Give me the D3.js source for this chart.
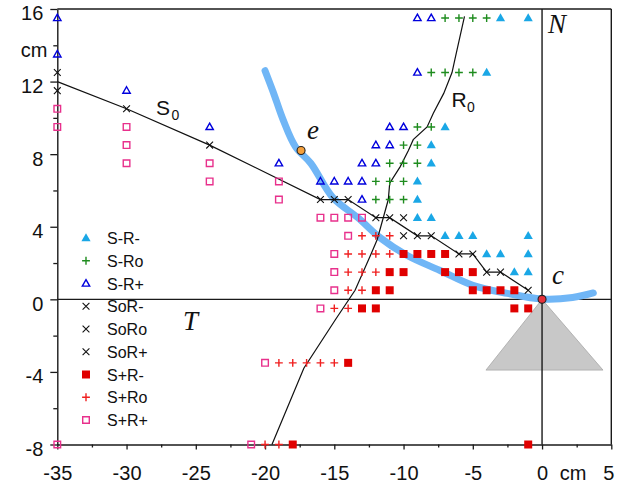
<!DOCTYPE html>
<html>
<head>
<meta charset="utf-8">
<script src="https://cdn.jsdelivr.net/npm/d3@7"></script>
<style>
  body { margin: 0; background: #fff; }
  svg { display: block; }
  text { font-family: "Liberation Sans", Arial, sans-serif; fill: #111; }
  .it { font-family: "Liberation Serif", "Times New Roman", serif; font-style: italic; }
</style>
</head>
<body>
<svg id="chart" width="619" height="484"></svg>
<script>
// tick values (cm)
const xMajorTicks = [-35, -30, -25, -20, -15, -10, -5, 0, 5]
const xMinorTicks = [-32.5, -27.5, -22.5, -17.5, -12.5, -7.5, -2.5, 2.5]
const yMajorTicks = [-8, -4, 0, 4, 8, 12, 16]
const yMinorTicks = [-6, -2, 2, 6, 10, 14]
const unitLabel = 'cm'
const xUnitAt = 2.5
const yUnitAt = 14

// measured cells, [x, y] in cm
const sRminus = [[-3, 15.5], [-1, 15.5], [-4, 12.5], [-7, 9.5], [-8, 8.5], [-8, 7.5], [-9, 6.5], [-9, 5.5],
  [-9, 4.5], [-8, 4.5], [-7, 3.5], [-6, 3.5], [-5, 3.5], [-1, 3.5], [-4, 2.5], [-3, 2.5], [-1, 2.5],
  [-2, 1.5], [-1, 1.5]]
const sRo = [[-7, 15.5], [-6, 15.5], [-5, 15.5], [-4, 15.5], [-8, 12.5], [-7, 12.5], [-6, 12.5], [-5, 12.5],
  [-9, 9.5], [-8, 9.5], [-10, 8.5], [-9, 8.5], [-11, 7.5], [-10, 7.5], [-9, 7.5], [-12, 6.5], [-11, 6.5],
  [-10, 6.5], [-12, 5.5], [-11, 5.5], [-10, 5.5]]
const sRplus = [[-35, 15.5], [-9, 15.5], [-8, 15.5], [-35, 13.5], [-9, 12.5], [-30, 11.5], [-24, 9.5],
  [-11, 9.5], [-10, 9.5], [-12, 8.5], [-11, 8.5], [-19, 7.5], [-13, 7.5], [-12, 7.5], [-16, 6.5],
  [-15, 6.5], [-14, 6.5], [-13, 6.5], [-13, 5.5]]
const soR = [[-35, 12.5], [-35, 11.5], [-30, 10.5], [-24, 8.5], [-16, 5.5], [-15, 5.5], [-14, 5.5],
  [-12, 4.5], [-11, 4.5], [-10, 4.5], [-10, 3.5], [-9, 3.5], [-8, 3.5], [-6, 2.5], [-5, 2.5],
  [-4, 1.5], [-3, 1.5], [-1, 0.5]]
const spRminus = [[-10, 2.5], [-9, 2.5], [-8, 2.5], [-7, 2.5], [-11, 1.5], [-10, 1.5], [-7, 1.5], [-6, 1.5],
  [-5, 1.5], [-12, 0.5], [-11, 0.5], [-5, 0.5], [-4, 0.5], [-3, 0.5], [-2, 0.5], [-13, -0.5], [-12, -0.5],
  [-2, -0.5], [-1, -0.5], [-14, -3.5], [-18, -8], [-1, -8]]
const spRo = [[-13, 3.5], [-12, 3.5], [-11, 3.5], [-14, 2.5], [-13, 2.5], [-12, 2.5], [-11, 2.5], [-14, 1.5],
  [-13, 1.5], [-12, 1.5], [-14, 0.5], [-13, 0.5], [-15, -0.5], [-14, -0.5], [-19, -3.5], [-18, -3.5],
  [-17, -3.5], [-16, -3.5], [-15, -3.5], [-20, -8], [-19, -8]]
const spRplus = [[-35, 10.5], [-35, 9.5], [-30, 9.5], [-30, 8.5], [-30, 7.5], [-24, 7.5], [-24, 6.5],
  [-19, 6.5], [-19, 5.5], [-16, 4.5], [-15, 4.5], [-14, 4.5], [-13, 4.5], [-14, 3.5], [-15, 2.5],
  [-15, 1.5], [-15, 0.5], [-16, -0.5], [-20, -3.5], [-35, -8], [-21, -8]]

// boundary lines and the trajectory
const s0Line = [[-35, 12], [-30, 10.5], [-24, 8.5], [-16, 5.5], [-14, 5.5], [-12, 4.5], [-11, 4.5],
  [-9, 3.5], [-8, 3.5], [-6, 2.5], [-5, 2.5], [-4, 1.5], [-3, 1.5], [-1, 0.5]]
const r0Line = [[-19.5, -8], [-17.2, -3.8], [-14.9, -1.1], [-13.5, 0.5], [-12.4, 2.4], [-11.9, 3.3],
  [-11.1, 5.5], [-11, 6.4], [-10.25, 7.3], [-9.65, 8.2], [-9.3, 8.8], [-8.3, 9.5], [-7.85, 10.25],
  [-7.1, 11.35], [-6.5, 12.5], [-6.3, 13.2], [-5.6, 15.6]]
const trajectory = [[-20, 12.6], [-19.4, 11.4], [-18.7, 9.9], [-17.8, 8.4], [-16.7, 7.5], [-15.1, 5.6],
  [-13.3, 4.5], [-11.7, 3.4], [-9.7, 2.4], [-7.4, 1.6], [-5, 0.77], [-2.5, 0.33], [0, 0.02],
  [2.2, 0.1], [3.7, 0.35]]
const pointE = [-17.4, 8.2]
const pointC = [0, 0]
const cone = [[0, 0], [-4.05, -3.9], [4.4, -3.9]]

const series = [
  { name: 'S-R-', data: sRminus, shape: 'triFill', color: '#1aa7e6' },
  { name: 'S-Ro', data: sRo, shape: 'plus', color: '#1e8c1e' },
  { name: 'S-R+', data: sRplus, shape: 'triOpen', color: '#0000dd' },
  { name: 'SoR-', data: [], shape: 'cross', color: '#111' },
  { name: 'SoRo', data: [], shape: 'cross', color: '#111' },
  { name: 'SoR+', data: soR, shape: 'cross', color: '#111' },
  { name: 'S+R-', data: spRminus, shape: 'sqFill', color: '#e00000' },
  { name: 'S+Ro', data: spRo, shape: 'plus', color: '#f02020' },
  { name: 'S+R+', data: spRplus, shape: 'sqOpen', color: '#e8308c' },
]

const shapes = {
  triFill: 'M0,-4.8L4.6,3.2L-4.6,3.2Z',
  triOpen: 'M0,-3.9L3.7,2.6L-3.7,2.6Z',
  plus: 'M-3.9,0H3.9M0,-3.9V3.9',
  cross: 'M-3.4,-3.4L3.4,3.4M-3.4,3.4L3.4,-3.4',
  sqFill: 'M-4,-4H4V4H-4Z',
  sqOpen: 'M-3.3,-3.3H3.3V3.3H-3.3Z',
}

function styleMark(sel, s) {
  const filled = s.shape === 'triFill' || s.shape === 'sqFill'
  sel.attr('d', shapes[s.shape])
    .attr('fill', filled ? s.color : 'none')
    .attr('stroke', filled ? 'none' : s.color)
    .attr('stroke-width', s.shape === 'cross' ? 1.1 : 1.4)
}

const svg = d3.select('#chart')
const x = d3.scaleLinear().domain([-35, 5]).range([57.3, 611.3])
const y = d3.scaleLinear().domain([-8, 16]).range([444.5, 9])
const line = d3.line().x(d => x(d[0])).y(d => y(d[1]))

// cone
svg.append('path')
  .attr('d', line(cone) + 'Z')
  .attr('fill', '#c8c8c8')
  .attr('stroke', '#a8a8a8')
  .attr('stroke-width', 0.8)

// frame and zero lines
const frame = svg.append('g').attr('stroke', '#1a1a1a').attr('stroke-width', 1.4)
frame.append('line').attr('x1', x(-35)).attr('x2', x(5)).attr('y1', y(16)).attr('y2', y(16))
frame.append('line').attr('x1', x(5)).attr('x2', x(5)).attr('y1', y(16)).attr('y2', y(-8))
frame.append('line').attr('x1', x(-35)).attr('x2', x(5)).attr('y1', y(0)).attr('y2', y(0))
frame.append('line').attr('x1', x(0)).attr('x2', x(0)).attr('y1', y(16)).attr('y2', y(-8))

// axes
const xAxis = svg.append('g')
  .attr('transform', `translate(0,${y(-8)})`)
  .call(d3.axisBottom(x)
    .tickValues(xMajorTicks.concat(xMinorTicks))
    .tickSize(5).tickSizeOuter(0).tickPadding(16)
    .tickFormat(d => xMajorTicks.includes(d) ? String(d) : d === xUnitAt ? unitLabel : ''))
xAxis.selectAll('.tick line').filter(d => !xMajorTicks.includes(d)).attr('y2', 3)
xAxis.selectAll('.tick text').filter(d => d === xUnitAt).attr('x', -4)
xAxis.selectAll('.tick text').filter(d => d === 5).attr('x', -3)

const yAxis = svg.append('g')
  .attr('transform', `translate(${x(-35)},0)`)
  .call(d3.axisLeft(y)
    .tickValues(yMajorTicks.concat(yMinorTicks))
    .tickSize(7).tickSizeOuter(0).tickPadding(7)
    .tickFormat(d => yMajorTicks.includes(d) ? String(d) : d === yUnitAt ? unitLabel : ''))
yAxis.selectAll('.tick line').filter(d => !yMajorTicks.includes(d)).attr('x2', -4)
yAxis.selectAll('.tick text').attr('y', 4.5)
yAxis.selectAll('.tick text').filter(d => d === yUnitAt).attr('x', -10)

svg.selectAll('.domain').attr('stroke', '#1a1a1a').attr('stroke-width', 1.4)
svg.selectAll('.tick line').attr('stroke', '#1a1a1a').attr('stroke-width', 1.3)
svg.selectAll('.tick text').attr('font-size', 20).attr('font-family', '"Liberation Sans", Arial, sans-serif').attr('fill', '#111')

// trajectory
svg.append('path')
  .attr('d', d3.line().curve(d3.curveCatmullRom).x(d => x(d[0])).y(d => y(d[1]))(trajectory))
  .attr('fill', 'none')
  .attr('stroke', '#70b6f6')
  .attr('stroke-width', 7)
  .attr('stroke-linecap', 'round')

// S0 and R0 boundaries
svg.append('path').attr('d', line(s0Line)).attr('fill', 'none').attr('stroke', '#111').attr('stroke-width', 1.2)
svg.append('path').attr('d', line(r0Line)).attr('fill', 'none').attr('stroke', '#111').attr('stroke-width', 1.2)

// markers
series.forEach(s => {
  svg.append('g').selectAll('path')
    .data(s.data)
    .join('path')
    .attr('transform', d => `translate(${x(d[0])},${y(d[1])})`)
    .call(styleMark, s)
})

// legend
const legend = svg.append('g')
series.forEach((s, i) => {
  const ly = 238 + i * 22.75
  legend.append('path').attr('transform', `translate(86,${ly})`).call(styleMark, s)
  legend.append('text').attr('x', 107).attr('y', ly + 6).attr('font-size', 16).text(s.name)
})

// points e and c
svg.append('circle').attr('cx', x(pointE[0])).attr('cy', y(pointE[1])).attr('r', 4)
  .attr('fill', '#f5a03c').attr('stroke', '#222').attr('stroke-width', 1.1)
svg.append('circle').attr('cx', x(pointC[0])).attr('cy', y(pointC[1])).attr('r', 4)
  .attr('fill', '#e8303a').attr('stroke', '#222').attr('stroke-width', 1.1)

// annotations
const sub = (label, idx, lx, ly) => {
  svg.append('text').attr('x', lx).attr('y', ly).attr('font-size', 21).text(label)
  svg.append('text').attr('x', lx + 15.5).attr('y', ly + 5).attr('font-size', 14).text(idx)
}
sub('S', '0', 156, 115)
sub('R', '0', 451.5, 106.7)

svg.append('text').attr('class', 'it').attr('x', 548).attr('y', 33).attr('font-size', 27).text('N')
svg.append('text').attr('class', 'it').attr('x', 307).attr('y', 139).attr('font-size', 27).text('e')
svg.append('text').attr('class', 'it').attr('x', 552).attr('y', 284).attr('font-size', 27).text('c')
svg.append('text').attr('class', 'it').attr('x', 183).attr('y', 329.5).attr('font-size', 27).text('T')
</script>
</body>
</html>
